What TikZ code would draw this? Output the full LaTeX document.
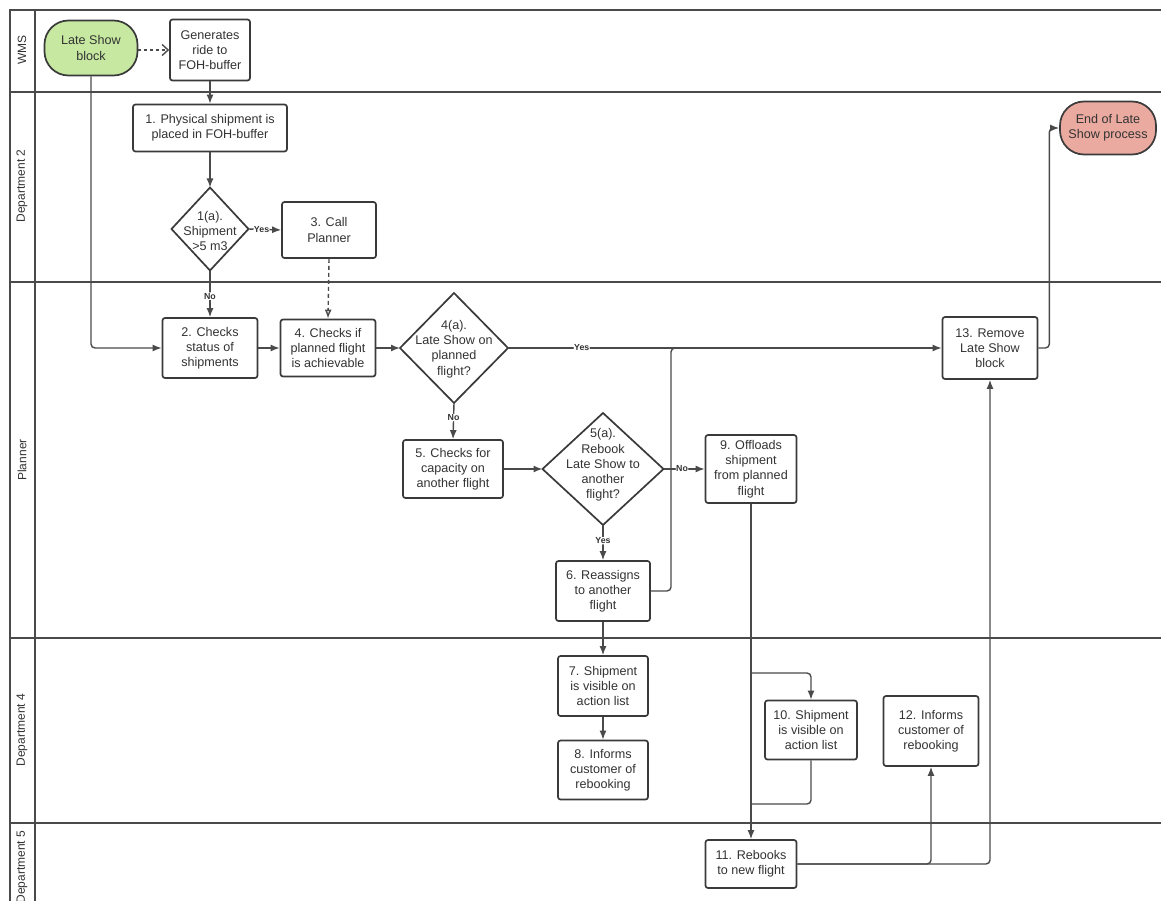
\documentclass[tikz,border=0pt]{standalone}
\usepackage{fontspec}
\setmainfont{Liberation Sans}
\usetikzlibrary{arrows.meta,shapes.geometric,calc}
\definecolor{boxc}{HTML}{3A3A3A}
\definecolor{linec}{HTML}{4A4A4A}
\definecolor{txtc}{HTML}{333333}
\definecolor{greenf}{HTML}{C6E8A0}
\definecolor{redf}{HTML}{EBAAA0}
\begin{document}
\begin{tikzpicture}[x=1pt,y=-1pt,
  box/.style={draw=boxc, line width=1.7pt, rounded corners=2.5pt, fill=white, align=center, inner sep=1pt, font=\fontsize{12.6}{15.2}\selectfont, text=txtc},
  term/.style={box, rounded corners=24pt},
  dia/.style={diamond, draw=boxc, line width=1.7pt, fill=white, inner sep=0pt, outer sep=0pt},
  dtxt/.style={align=center, inner sep=0pt, font=\fontsize{12.6}{15.2}\selectfont, text=txtc},
  lane/.style={draw=linec, line width=1.8pt},
  lanelbl/.style={rotate=90, font=\fontsize{12}{14}\selectfont, text=txtc, inner sep=0pt},
  conn/.style={draw=linec, line width=1.4pt, rounded corners=4pt},
  arr/.style={conn, -{Latex[length=9pt,width=7pt]}},
  darr/.style={conn, dashed, dash pattern=on 4pt off 3pt, -{Latex[open,length=9pt,width=7pt]}},
  carr/.style={conn, dashed, dash pattern=on 3pt off 3pt, -{Straight Barb[length=6pt,width=11pt]}},
  yn/.style={font=\fontsize{8.8}{10}\bfseries\selectfont, text=txtc, fill=white, inner sep=0.6pt}
]
\useasboundingbox (0,0) rectangle (1161,901);
\clip (0,0) rectangle (1161,901);
\fill[white] (0,0) rectangle (1161,901);

% lanes
\draw[lane] (1161,10) -- (10,10) -- (10,905);
\draw[lane] (35,10) -- (35,905);
\foreach \yy in {92,282,638,823} { \draw[lane] (10,\yy) -- (1161,\yy); }
\node[lanelbl] (lw) at (22,50) {WMS};
\node[lanelbl] (l2) at (22,186) {Department 2};
\node[lanelbl] (lp) at (22,460) {Planner};
\node[lanelbl] (l4) at (22,730) {Department 4};
\node[lanelbl] (l5) at (22,867) {Department 5};

% nodes
\node[term, fill=greenf, minimum width=93pt, minimum height=55pt] (lsb) at (91,48) {Late Show\\block};
\node[box, minimum width=80pt, minimum height=61pt] (gen) at (210,50) {Generates\\ride to\\FOH-buffer};
\node[box, minimum width=154pt, minimum height=47pt] (n1) at (210,128) {1. Physical shipment is\\placed in FOH-buffer};
\node[dia, minimum width=77pt, minimum height=83pt] (d1a) at (210,229) {};
\node[dtxt] (d1at) at (210,231) {1(a).\\Shipment\\>5 m3};
\node[box, minimum width=94pt, minimum height=56pt] (c3) at (329,230) {3. Call\\Planner};
\node[box, minimum width=95pt, minimum height=60pt] (n2) at (210,348) {2. Checks\\status of\\shipments};
\node[box, minimum width=95pt, minimum height=57pt] (n4) at (328,348) {4. Checks if\\planned flight\\is achievable};
\node[dia, minimum width=108pt, minimum height=110pt] (d4a) at (454,348) {};
\node[dtxt] (d4at) at (454,349) {4(a).\\Late Show on\\planned\\flight?};
\node[box, minimum width=95pt, minimum height=62pt] (n13) at (990,348) {13. Remove\\Late Show\\block};
\node[term, fill=redf, minimum width=96pt, minimum height=53pt] (end) at (1108,128) {End of Late\\Show process};
\node[box, minimum width=100pt, minimum height=58pt] (n5) at (453,469) {5. Checks for\\capacity on\\another flight};
\node[dia, minimum width=121pt, minimum height=112pt] (d5a) at (603,469) {};
\node[dtxt] (d5at) at (603,465) {5(a).\\Rebook\\Late Show to\\another\\flight?};
\node[box, minimum width=91pt, minimum height=68pt] (n9) at (751,469) {9. Offloads\\shipment\\from planned\\flight};
\node[box, minimum width=94pt, minimum height=60pt] (n6) at (603,591) {6. Reassigns\\to another\\flight};
\node[box, minimum width=90pt, minimum height=60pt] (n7) at (603,686) {7. Shipment\\is visible on\\action list};
\node[box, minimum width=90pt, minimum height=59pt] (n8) at (603,770) {8. Informs\\customer of\\rebooking};
\node[box, minimum width=92pt, minimum height=59pt] (n10) at (811,730) {10. Shipment\\is visible on\\action list};
\node[box, minimum width=95pt, minimum height=70pt] (n12) at (931,731) {12. Informs\\customer of\\rebooking};
\node[box, minimum width=91pt, minimum height=48pt] (n11) at (751,864) {11. Rebooks\\to new flight};

\coordinate (j1) at (671,348);
\coordinate (b1) at (751,673);
\coordinate (b2) at (751,804);

% connectors
\draw[carr] (lsb.east |- gen.west) -- (gen.west);
\draw[arr] (gen.south) -- (n1.north);
\draw[arr] (n1.south) -- (d1a.north);
\draw[arr] (d1a.east) -- node[yn, pos=0.4] (y1) {Yes} (c3.west);
\draw[arr] (d1a.south) -- node[yn, pos=0.55] (no1) {No} (n2.north);
\draw[darr] (c3.south) -- (n4.north);
\draw[arr] (lsb.south) |- (n2.west);
\draw[arr] (n2.east) -- (n4.west);
\draw[arr] (n4.east) -- (d4a.west);
\draw[arr] (d4a.east) -- node[yn, pos=0.17] (y4) {Yes} (n13.west);
\draw[arr] (d4a.south) -- node[yn, pos=0.4] (no4) {No} (n5.north);
\draw[arr] (n5.east) -- (d5a.west);
\draw[arr] (d5a.east) -- node[yn, pos=0.45] (no5) {No} (n9.west);
\draw[arr] (d5a.south) -- node[yn, pos=0.45] (y5) {Yes} (n6.north);
\draw[conn] (n6.east) -| (j1) -- ++(12,0);
\draw[arr] (n13.east) -- ++(11,0) |- (end.west);
\draw[arr] (n6.south) -- (n7.north);
\draw[arr] (n7.south) -- (n8.north);
\draw[arr] (n9.south) -- (n11.north);
\draw[arr] (b1) -| (n10.north);
\draw[conn] (n10.south) |- (b2);
\draw[arr] (n11.east) -| (n12.south);
\draw[arr] (n11.east) -| (n13.south);
\end{tikzpicture}
\end{document}
